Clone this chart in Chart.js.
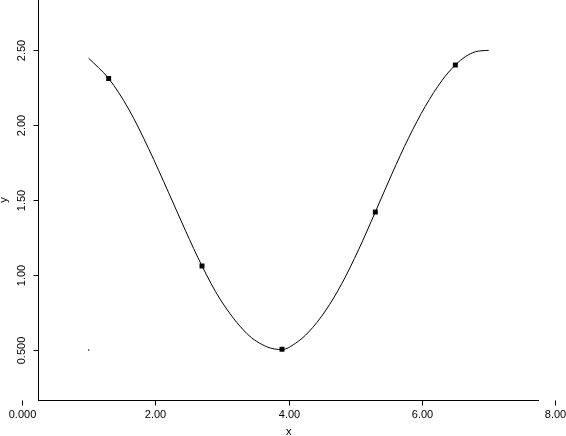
<!DOCTYPE html>
<html>
<head>
<meta charset="utf-8">
<script src="https://cdn.jsdelivr.net/npm/chart.js@4/dist/chart.umd.min.js"></script>
<style>
  html, body { margin: 0; padding: 0; background: #fff; }
  #wrap { width: 566px; height: 436px; }
</style>
</head>
<body>
<div id="wrap"><canvas id="grafico"></canvas></div>
<script>
// --- dados ---

// pontos marcados (quadrados)
const pontosX = [1.3, 2.7, 3.9, 5.3, 6.5];
const pontosY = [2.31, 1.06, 0.505, 1.42, 2.40];

// curva suave lida ponto a ponto
const curvaX = [1.0, 1.3, 1.6, 1.9, 2.2, 2.45, 2.7, 2.97, 3.37, 3.67, 3.9,
                4.1, 4.3, 4.55, 4.8, 5.05, 5.3, 5.55, 5.8, 6.05, 6.3,
                6.5, 6.65, 6.8, 7.0];
const curvaY = [2.445, 2.31, 2.106, 1.842, 1.548, 1.298, 1.06, 0.84, 0.611, 0.522, 0.503,
                0.544, 0.62, 0.76, 0.945, 1.17, 1.42, 1.675, 1.915, 2.125, 2.297,
                2.40, 2.455, 2.488, 2.498];

// ponto solto perto de (1, 0.5)
const soltoX = [1.0];
const soltoY = [0.5];

// eixos
const ticksX = [0, 2, 4, 6, 8];
const rotulosX = ['0.000', '2.00', '4.00', '6.00', '8.00'];
const ticksY = [0.5, 1.0, 1.5, 2.0, 2.5];
const rotulosY = ['0.500', '1.00', '1.50', '2.00', '2.50'];
const limitesX = [0.24, 7.755];
const limitesY = [0.1667, 2.8333];
const tituloX = 'x';
const tituloY = 'y';

const fonte = '11px "Liberation Sans", Arial, sans-serif';

function pares(xs, ys) {
    return xs.map((x, i) => ({ x: x, y: ys[i] }));
}

// desenha eixos no estilo da figura (linhas, marcas e rótulos)
const eixosPlugin = {
    id: 'eixos',
    afterDraw(chart) {
        const ctx = chart.ctx;
        const area = chart.chartArea;
        const sx = chart.scales.x;
        const sy = chart.scales.y;
        const base = Math.round(area.bottom) + 0.5;
        const esq = Math.round(area.left) + 0.5;

        ctx.save();
        ctx.strokeStyle = '#000';
        ctx.fillStyle = '#000';
        ctx.lineWidth = 1;
        ctx.font = fonte;

        ctx.beginPath();
        ctx.moveTo(area.left, base);
        ctx.lineTo(area.right, base);
        ctx.moveTo(esq, area.top);
        ctx.lineTo(esq, area.bottom + 1);
        ctx.stroke();

        // eixo x
        ctx.textAlign = 'center';
        ctx.textBaseline = 'middle';
        ticksX.forEach((v, i) => {
            const px = Math.round(sx.getPixelForValue(v)) + 0.5;
            ctx.beginPath();
            ctx.moveTo(px, base);
            ctx.lineTo(px, base + 5);
            ctx.stroke();
            ctx.fillText(rotulosX[i], px, base + 14);
        });
        ctx.fillText(tituloX, sx.getPixelForValue(4), base + 31);

        // eixo y
        ticksY.forEach((v, i) => {
            const py = Math.round(sy.getPixelForValue(v)) + 0.5;
            ctx.beginPath();
            ctx.moveTo(esq - 5, py);
            ctx.lineTo(esq, py);
            ctx.stroke();
            ctx.save();
            ctx.translate(esq - 17, py);
            ctx.rotate(-Math.PI / 2);
            ctx.fillText(rotulosY[i], 0, 0);
            ctx.restore();
        });
        ctx.save();
        ctx.translate(4, (area.top + area.bottom) / 2);
        ctx.rotate(-Math.PI / 2);
        ctx.fillText(tituloY, 0, 0);
        ctx.restore();

        ctx.restore();
    }
};

new Chart(document.getElementById('grafico'), {
    type: 'scatter',
    data: {
        datasets: [
            {
                label: 'curva',
                data: pares(curvaX, curvaY),
                showLine: true,
                borderColor: '#000',
                borderWidth: 1,
                pointRadius: 0,
                cubicInterpolationMode: 'monotone',
                fill: false
            },
            {
                label: 'pontos',
                data: pares(pontosX, pontosY),
                showLine: false,
                pointStyle: 'rect',
                pointRadius: 3.5,
                backgroundColor: '#000',
                borderColor: '#000',
                borderWidth: 0
            },
            {
                label: 'solto',
                data: pares(soltoX, soltoY),
                showLine: false,
                pointRadius: 0.7,
                backgroundColor: '#000',
                borderWidth: 0
            }
        ]
    },
    options: {
        responsive: true,
        maintainAspectRatio: false,
        animation: false,
        devicePixelRatio: 1,
        layout: { autoPadding: false, padding: { left: 38, right: 27, top: 0, bottom: 36 } },
        plugins: {
            legend: { display: false },
            tooltip: { enabled: false }
        },
        scales: {
            x: { type: 'linear', display: false, min: limitesX[0], max: limitesX[1] },
            y: { type: 'linear', display: false, min: limitesY[0], max: limitesY[1] }
        }
    },
    plugins: [eixosPlugin]
});
</script>
</body>
</html>
